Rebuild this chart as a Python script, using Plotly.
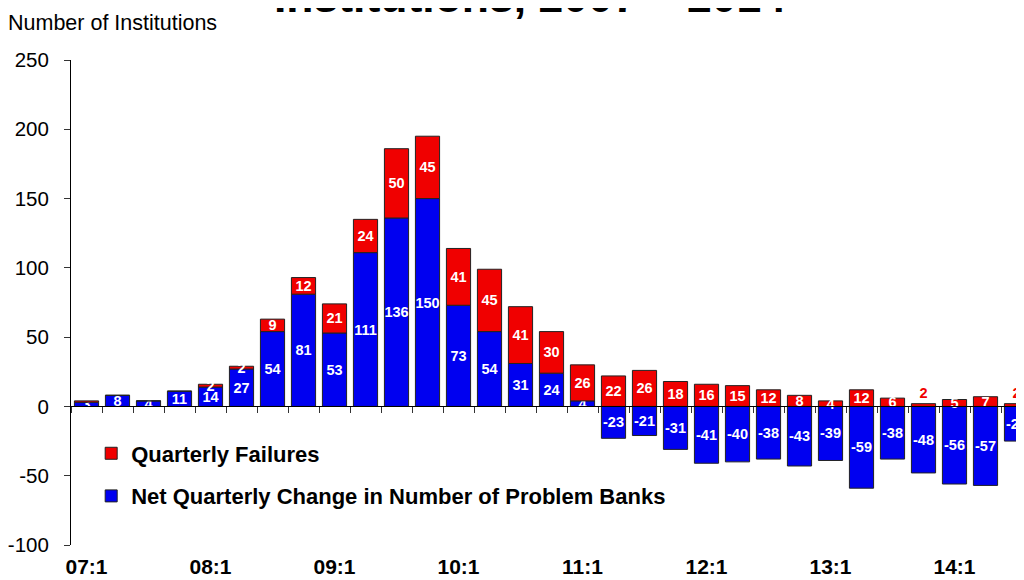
import plotly.graph_objects as go

quarters = ["07:1", "07:2", "07:3", "07:4", "08:1", "08:2", "08:3", "08:4",
            "09:1", "09:2", "09:3", "09:4", "10:1", "10:2", "10:3", "10:4",
            "11:1", "11:2", "11:3", "11:4", "12:1", "12:2", "12:3", "12:4",
            "13:1", "13:2", "13:3", "13:4", "14:1", "14:2", "14:3"]
problem_change = [3, 8, 4, 11, 14, 27, 54, 81, 53, 111, 136, 150, 73, 54, 31, 24,
                  4, -23, -21, -31, -41, -40, -38, -43, -39, -59, -38, -48, -56, -57, -25]
failures = [1, 0, 0, 0, 2, 2, 9, 12, 21, 24, 50, 45, 41, 45, 41, 30,
            26, 22, 26, 18, 16, 15, 12, 8, 4, 12, 6, 2, 5, 7, 2]
tick_labels = ["07:1", "08:1", "09:1", "10:1", "11:1", "12:1", "13:1", "14:1"]
y_ticks = [-100, -50, 0, 50, 100, 150, 200, 250]

RED = "#F00000"
BLUE = "#0000F0"
NARROW = "Liberation Sans Narrow, Arial Narrow, Liberation Sans, Arial, sans-serif"
SANS = "Liberation Sans, Arial, sans-serif"

# label styling: tiny failure bars get red labels above the bar
fail_text = [str(v) if v > 1 else "" for v in failures]
fail_pos = ["outside" if v == 2 and c.startswith(("13", "14")) else "inside"
            for v, c in zip(failures, quarters)]
fail_col = [RED if p == "outside" else "white" for p in fail_pos]

fig = go.Figure()
fig.add_trace(go.Bar(
    x=quarters, y=problem_change, name="Net Quarterly Change in Number of Problem Banks",
    marker=dict(color=BLUE, line=dict(color="#222222", width=1)),
    text=[str(v) for v in problem_change], textposition="inside",
    insidetextanchor="middle", constraintext="none", textangle=0,
    textfont=dict(family=SANS, size=14.5, color="white", weight="bold"),
    legendgroup="b", legendrank=2,
))
fig.add_trace(go.Bar(
    x=quarters, y=failures, name="Quarterly Failures",
    marker=dict(color=RED, line=dict(color="#222222", width=1)),
    text=fail_text, textposition=fail_pos,
    insidetextanchor="middle", constraintext="none", textangle=0,
    textfont=dict(family=SANS, size=14.5, color=fail_col, weight="bold"),
    outsidetextfont=dict(family=SANS, size=14.5, color=RED, weight="bold"),
    cliponaxis=False,
    legendgroup="a", legendrank=1,
))

fig.update_layout(
    width=1024, height=580,
    margin=dict(l=63, r=0, t=52, b=43, autoexpand=False),
    paper_bgcolor="white", plot_bgcolor="white",
    barmode="relative", bargap=0.22,
    font=dict(family=SANS, color="black"),
    showlegend=True,
    legend=dict(
        x=0.021, y=0.232, xanchor="left", yanchor="top",
        traceorder="grouped", tracegroupgap=11,
        font=dict(family=SANS, size=22, color="black", weight="bold"),
        bgcolor="rgba(0,0,0,0)",
    ),
    xaxis=dict(
        type="category", categoryorder="array", categoryarray=quarters,
        range=[-0.5, 30.5], automargin=False,
        anchor="free", position=100 / 350,
        showline=True, linecolor="black", linewidth=1,
        ticks="outside", tickson="boundaries", ticklen=6, tickcolor="#333333",
        tickmode="array", tickvals=quarters,
        ticktext=[q if q in tick_labels else "" for q in quarters],
        tickangle=0,
        ticklabelstandoff=141,
        tickfont=dict(family=NARROW, size=21, color="black", weight="bold"),
        showgrid=False, zeroline=False,
    ),
    yaxis=dict(
        range=[-100, 250], automargin=False,
        tickmode="array", tickvals=y_ticks, ticktext=[str(v) for v in y_ticks],
        showline=True, linecolor="black", linewidth=1,
        ticks="outside", ticklen=6, tickcolor="#333333",
        ticklabelstandoff=11,
        tickfont=dict(family=SANS, size=20.5, color="black"),
        showgrid=False, zeroline=False,
    ),
    annotations=[
        dict(text="Number of Institutions", xref="paper", yref="paper",
             x=0, y=1, xanchor="left", yanchor="bottom", xshift=-65, yshift=23,
             showarrow=False, font=dict(family=NARROW, size=21.5, color="black")),
        dict(text="Institutions, 2007 \u2013 2014", xref="paper", yref="paper",
             x=0.4776, y=1, xanchor="center", yanchor="bottom", yshift=37,
             showarrow=False,
             font=dict(family=SANS, size=44.5, color="black", weight="bold")),
    ],
)

fig.write_html("out.html")
